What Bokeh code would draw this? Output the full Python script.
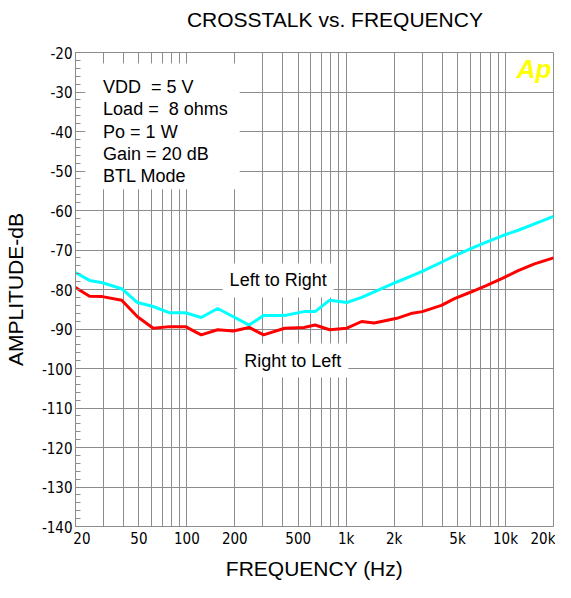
from bokeh.plotting import figure
from bokeh.models import FixedTicker, Label, BoxAnnotation, LinearAxis
from bokeh.embed import file_html
from bokeh.resources import INLINE

# ---- data ----
freq = [20, 24.5, 29.5, 39, 49, 61.5, 78, 98, 123, 156, 196, 246, 303, 411, 543,
        638, 787, 1010, 1250, 1500, 2080, 2600, 3000, 3960, 4780, 6010, 7570,
        9540, 12000, 15200, 20000]
left_to_right = [-75.7, -77.7, -78.3, -79.8, -83.3, -84.3, -85.9, -85.9, -87.1,
                 -84.8, -86.9, -89.0, -86.6, -86.6, -85.6, -85.6, -82.7, -83.3,
                 -82.0, -80.6, -78.1, -76.5, -75.4, -73.1, -71.5, -69.7, -68.0,
                 -66.4, -65.0, -63.4, -61.5]
right_to_left = [-79.5, -81.7, -81.8, -82.7, -86.9, -89.8, -89.4, -89.4, -91.5,
                 -90.2, -90.5, -89.6, -91.5, -89.8, -89.6, -89.0, -90.2, -89.8,
                 -88.1, -88.5, -87.3, -86.0, -85.6, -84.0, -82.3, -80.7, -79.0,
                 -77.2, -75.2, -73.5, -72.0]

NB = "\u00a0"
x_ticks = [20, 30, 40, 50, 60, 70, 80, 90, 100, 200, 300, 400, 500, 600, 700, 800,
           900, 1000, 2000, 3000, 4000, 5000, 6000, 7000, 8000, 9000, 10000, 20000]
x_tick_labels = {20: NB * 3 + "20", 50: "50", 100: "100", 200: "200", 500: "500",
                 1000: "1k", 2000: "2k", 5000: "5k", 10000: "10k", 20000: "20k"}
y_ticks = list(range(-140, -19, 10))
y_tick_labels = {t: "-%d" % (-t) for t in y_ticks}
y_minor_ticks = list(range(-140, -19, 2))
title_text = "CROSSTALK vs. FREQUENCY"
info_lines = ["VDD" + NB + " = 5 V", "Load =" + NB + " 8 ohms", "Po = 1 W",
              "Gain = 20 dB", "BTL Mode"]

GRID = "#8c8c8c"
FONT = "Liberation Sans"
NARROW = "'DejaVu Sans Condensed', 'Liberation Sans'"

p = figure(width=555, height=582, x_axis_type="log", x_range=(20, 20000),
           y_range=(-140, -20), output_backend="svg", toolbar_location=None,
           min_border_left=72, min_border_right=2, min_border_top=52,
           min_border_bottom=50)

p.background_fill_color = "white"
p.border_fill_color = "white"
p.outline_line_color = GRID
p.outline_line_width = 1

# x axis (bottom)
xa = p.below[0]
xa.ticker = FixedTicker(ticks=x_ticks)
xa.major_label_overrides = {t: x_tick_labels.get(t, "") for t in x_ticks}
xa.axis_label = "FREQUENCY (Hz)"
xa.axis_label_text_font = FONT
xa.axis_label_text_font_style = "normal"
xa.axis_label_text_font_size = "21px"
xa.axis_label_text_color = "black"
xa.axis_label_standoff = 6
xa.major_label_text_font = NARROW
xa.major_label_text_font_size = "15px"
xa.major_label_text_color = "black"
xa.major_label_standoff = 3
xa.major_tick_in = 0
xa.major_tick_out = 0
xa.minor_tick_in = 0
xa.minor_tick_out = 0
xa.axis_line_color = GRID

# title, as the label of an empty axis above the frame
title_axis = LinearAxis(ticker=FixedTicker(ticks=[]), axis_label=NB * 7 + title_text,
                        axis_label_text_font=FONT, axis_label_text_font_style="normal",
                        axis_label_text_font_size="21px", axis_label_text_color="black",
                        axis_label_standoff=22, axis_line_color=None,
                        major_label_standoff=0, major_label_text_font_size="0px",
                        major_tick_in=0, major_tick_out=0,
                        minor_tick_in=0, minor_tick_out=0)
p.add_layout(title_axis, "above")

# y axis
ya = p.left[0]
ya.ticker = FixedTicker(ticks=y_ticks, minor_ticks=y_minor_ticks)
ya.major_label_overrides = y_tick_labels
ya.axis_label = "AMPLITUDE-dB"
ya.axis_label_text_font = FONT
ya.axis_label_text_font_style = "normal"
ya.axis_label_text_font_size = "21px"
ya.axis_label_text_color = "black"
ya.axis_label_standoff = 12
ya.major_label_text_font = NARROW
ya.major_label_text_font_size = "15px"
ya.major_label_text_color = "black"
ya.major_label_standoff = 3
ya.major_tick_in = 0
ya.major_tick_out = 0
ya.minor_tick_in = 5
ya.minor_tick_out = 0
ya.minor_tick_line_color = GRID
ya.axis_line_color = GRID

p.xgrid.ticker = FixedTicker(ticks=x_ticks)
p.xgrid.grid_line_color = GRID
p.ygrid.grid_line_color = GRID
p.xgrid.grid_line_alpha = 1
p.ygrid.grid_line_alpha = 1

# curves
p.line(freq, left_to_right, line_color="#00FFFF", line_width=3)
p.line(freq, right_to_left, line_color="#FF0000", line_width=3)

# info box
p.add_layout(BoxAnnotation(left=23.0, right=214.6, top=-22.8, bottom=-54.6,
                           fill_color="white", fill_alpha=1, line_alpha=0))
for i, line in enumerate(info_lines):
    p.add_layout(Label(x=29.8, y=-28.7 - 5.65 * i, text=line, text_font=FONT,
                       text_font_size="18px", text_baseline="middle",
                       text_align="left", text_color="black"))

# curve labels
p.add_layout(Label(x=374, y=-77.7, text="Left to Right", text_font=FONT,
                   text_font_size="18px", text_baseline="middle",
                   text_align="center", text_color="black",
                   background_fill_color="white", background_fill_alpha=1,
                   padding=7))
p.add_layout(Label(x=462, y=-98.0, text="Right to Left", text_font=FONT,
                   text_font_size="18px", text_baseline="middle",
                   text_align="center", text_color="black",
                   background_fill_color="white", background_fill_alpha=1,
                   padding=7))

# Ap logo
p.add_layout(Label(x=20000, y=-20, text="Ap", text_font=FONT,
                   text_font_size="26px", text_font_style="bold italic",
                   text_color="#FFFF00", text_align="right",
                   text_baseline="top", x_offset=-2, y_offset=-1))

open("out.html", "w").write(file_html(p, INLINE))
